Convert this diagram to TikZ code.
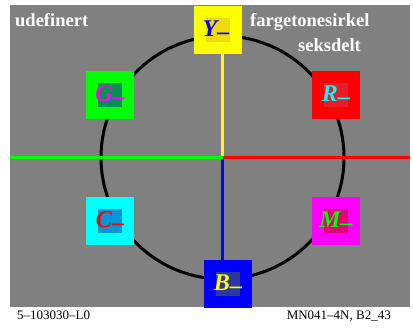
\documentclass[tikz,border=0pt]{standalone}
\usepackage{fontspec}
\setmainfont{Liberation Serif}
\definecolor{bg}{RGB}{128,128,128}
\definecolor{pY}{RGB}{255,255,0}
\definecolor{pG}{RGB}{0,255,0}
\definecolor{pR}{RGB}{255,0,0}
\definecolor{pC}{RGB}{0,255,255}
\definecolor{pM}{RGB}{255,0,255}
\definecolor{pB}{RGB}{0,0,255}
\definecolor{Yin}{RGB}{240,220,0}
\definecolor{Gin}{RGB}{0,145,80}
\definecolor{Rin}{RGB}{230,30,40}
\definecolor{Cin}{RGB}{0,150,220}
\definecolor{Min}{RGB}{225,0,120}
\definecolor{Bin}{RGB}{45,55,160}
\tikzset{
  sq/.style={draw=none, minimum size=48pt, inner sep=0pt},
  insq/.style={draw=none, minimum size=24pt, inner sep=0pt},
  lab/.style={inner sep=0pt, font=\fontsize{24}{24}\selectfont\bfseries\itshape},
  ttl/.style={inner sep=0pt, anchor=base west, text=white, font=\fontsize{18.5}{18.5}\selectfont\bfseries},
  foot/.style={inner sep=0pt, anchor=base, font=\fontsize{13}{13}\selectfont},
  axis/.style={line width=3pt}
}
\newcommand{\lbl}[1]{#1\raisebox{-3.5pt}{–}}
\begin{document}
\begin{tikzpicture}[x=1pt,y=-1pt]
\useasboundingbox (0,0) rectangle (413,332);
\fill[white] (0,0) rectangle (413,332);
\fill[bg] (10,5) rectangle (410,307);
\coordinate (O) at (222.5,157.5);
\coordinate (Lft) at (10,157.5);
\coordinate (Rgt) at (410,157.5);
\draw[line width=3pt] (O) circle[radius=121.5];
% squares
\node[sq, fill=pY] (Y) at (218,29.5) {};
\node[sq, fill=pG] (G) at (110,95) {};
\node[sq, fill=pR] (R) at (336,95) {};
\node[sq, fill=pC] (C) at (110,221) {};
\node[sq, fill=pM] (M) at (336,221) {};
\node[sq, fill=pB] (B) at (228,284) {};
% axes
\draw[axis, pY] (O) -- (O |- Y.south);
\draw[axis, pB] (O) -- (O |- B.north);
\draw[axis, pG] (O) -- (Lft);
\draw[axis, pR] (O) -- (Rgt);
% inner squares
\node[insq, fill=Yin] (Yi) at (Y) {};
\node[insq, fill=Gin] (Gi) at (G) {};
\node[insq, fill=Rin] (Ri) at (R) {};
\node[insq, fill=Cin] (Ci) at (C) {};
\node[insq, fill=Min] (Mi) at (M) {};
\node[insq, fill=Bin] (Bi) at (B) {};
% labels
\node[lab, text=pB] (Yl) at (216,30) {\lbl{Y}};
\node[lab, text=pM] (Gl) at (110,95) {\lbl{G}};
\node[lab, text=pC] (Rl) at (336,95) {\lbl{R}};
\node[lab, text=pR] (Cl) at (110,221) {\lbl{C}};
\node[lab, text=pG] (Ml) at (336,221) {\lbl{M}};
\node[lab, text=pY] (Bl) at (228,284) {\lbl{B}};
% titles
\node[ttl] (t1) at (15,27) {udefinert};
\node[ttl] (t2) at (250,27) {fargetonesirkel};
\node[ttl] (t3) at (298,52) {seksdelt};
% footer
\node[foot, anchor=base west] (f1) at (17,319) {5–103030–L0};
\node[foot, anchor=base east] (f2) at (391,319) {MN041–4N, B2\_43};
\end{tikzpicture}
\end{document}
